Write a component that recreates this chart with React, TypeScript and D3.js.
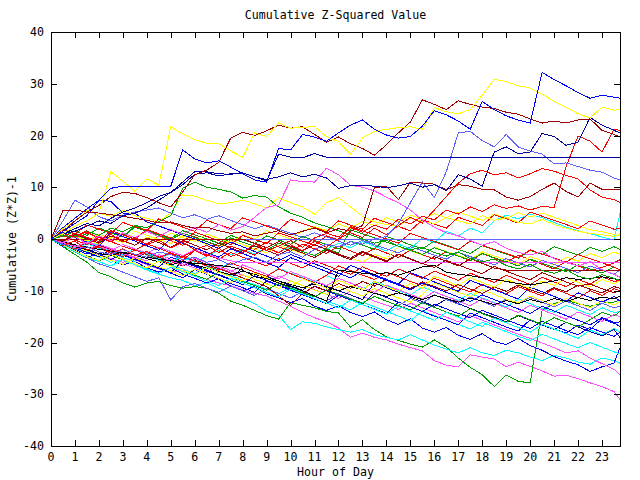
import React from "react";
import * as d3 from "d3";

const WIDTH = 640;
const HEIGHT = 480;
const PLOT = { left: 51, right: 620, top: 32, bottom: 446 };
const TICK = 6;
const FONT = "'DejaVu Sans Mono', 'Liberation Mono', monospace";

// half-hour samples, last one at 23:45
const HOURS = [
  0, 0.5, 1, 1.5, 2, 2.5, 3, 3.5, 4, 4.5, 5, 5.5, 6, 6.5, 7, 7.5,
  8, 8.5, 9, 9.5, 10, 10.5, 11, 11.5, 12, 12.5, 13, 13.5, 14, 14.5, 15, 15.5,
  16, 16.5, 17, 17.5, 18, 18.5, 19, 19.5, 20, 20.5, 21, 21.5, 22, 22.5, 23, 23.5, 23.75,
];
const X_TICKS = [0, 1, 2, 3, 4, 5, 6, 7, 8, 9, 10, 11, 12, 13, 14, 15, 16, 17, 18, 19, 20, 21, 22, 23];
const Y_TICKS = [-40, -30, -20, -10, 0, 10, 20, 30, 40];

const TITLE = "Cumulative Z-Squared Value";
const X_LABEL = "Hour of Day";
const Y_LABEL = "Cumulative (Z*Z)-1";

// upper lines
const blueTop = [
  0, 1.5, 3, 4.5, 7.5, 9.8, 10.2, 10.2,
  10.2, 10.2, 10.2, 17.2, 15.5, 14.7, 15.1, 13.9,
  12.6, 11.4, 11, 17.5, 17.2, 20.2, 19.7, 18.9,
  20.5, 22, 23, 21.2, 20.1, 19.5, 19.8, 21.8,
  24.8, 24, 22.8, 21.2, 26.6, 25, 23.8, 23,
  22.4, 32.2, 30.8, 29.6, 28.3, 27.2, 27.8, 27.4, 27.2,
];
const yellowTop = [
  0, 1, 2.5, 3.5, 5, 13, 11.2, 9.2,
  11.6, 10.4, 21.7, 20.3, 19.2, 18.5, 18.4, 17,
  15.8, 20.5, 19.8, 22.4, 21.4, 21.6, 21.7, 19.8,
  18.8, 16.4, 19.5, 20.8, 21.2, 21.5, 21.7, 21.2,
  25.4, 24.6, 24.2, 25, 27.8, 30.9, 30.4, 29.6,
  29.2, 28, 26.6, 25.4, 24.2, 23.4, 25.5, 24.9, 25,
];
const darkRedTop = [
  0, 1.5, 3.5, 5.2, 6.5, 8.2, 9, 8.8,
  8, 7, 6.2, 9.1, 12.4, 13.3, 14.8, 19.5,
  20.6, 20, 20.9, 22, 21.4, 21.7, 20.2, 18.7,
  19.7, 18.4, 17.5, 16.2, 18.2, 20.5, 22.6, 26.9,
  26, 25, 26.7, 26, 25.5, 25.2, 24.5, 24.1,
  23.2, 22.4, 22.8, 22.4, 23, 23.2, 21, 20.2, 19.7,
];
const navyFlat = [
  0, 1, 2, 3, 2.5, 4, 5.2, 6,
  7, 8.2, 9, 11, 13, 13, 12.6, 12.5,
  12.8, 12, 11.2, 16.4, 15.8, 15.7, 16.5, 15.8,
  15.8, 15.8, 15.8, 15.8, 15.8, 15.8, 15.8, 15.8,
  15.8, 15.8, 15.8, 15.8, 15.8, 15.8, 15.8, 15.8,
  15.8, 15.8, 15.8, 15.8, 15.8, 15.8, 15.8, 15.8, 15.8,
];
const navyRise = [
  0, 1, 1.5, 2.5, 3.5, 3, 4.5, 5,
  6, 7.5, 9, 10.5, 12.5, 12.8, 12.2, 12.6,
  12.8, 12, 11.5, 12, 12.8, 12, 12.5, 11.8,
  9.8, 10.3, 10.4, 10.2, 9.9, 10.3, 10.8, 10,
  10.5, 9.3, 12.4, 11.6, 10.2, 16.8, 17.8, 16.5,
  16.8, 20.4, 19.8, 18.1, 18.7, 23.5, 22, 21, 20.5,
];
const lightBlueRise = [
  0, -1, -2, -1.5, -2.5, -3, -2, -3,
  -3.5, -2.5, -3, -4, -3.5, -4.5, -4, -5,
  -4, -3.5, -4.5, -3, -2.5, -3.5, -2, -1,
  -1.5, -0.5, -1, 0, 0.5, 3, 7, 11,
  8, 13, 20.5, 20.8, 19, 17.8, 20.2, 17.8,
  17, 16.4, 14.5, 14.7, 14, 13.3, 12.9, 11.8, 11.4,
];
const redLate = [
  0, -1.2, -0.4, -2.1, -1.5, -2.8, -1.9, -3.2,
  -2.4, -3.6, -2.7, -4.1, -2.2, -3.3, -1.8, -3.4,
  -2.6, -0.9, -2.2, -1.4, -0.3, -1.6, 0.2, 1.1,
  0.4, 2.2, 1.3, 2.7, 1.9, 3.8, 2.9, 4.4,
  3.7, 5.6, 4.8, 6.2, 5.3, 6.6, 5.9, 6.4,
  5.6, 6.3, 6.1, 14, 19.9, 18.9, 16.8, 21.2, 21,
];
const redMid = [
  0, 1.1, 0.4, 1.6, -0.2, 0.9, -0.6, 0.3,
  -1.1, -0.2, -1.7, -0.6, -2.1, -1.2, -2.6, -1.4,
  -2.2, -3.1, -1.6, -2.7, -1.1, -2.3, -0.4, -1.6,
  0.1, 1.2, 0.3, 2.1, 0.8, 2.6, 4.2, 3.1,
  5.6, 8.2, 10.8, 12.6, 13.3, 12.4, 12.8, 11.8,
  12.6, 13.6, 13.1, 12.3, 11.6, 9.5, 8.1, 7.6, 7.1,
];
const darkRedMid = [
  0, 5.5, 5.6, 5.2, 5, 4.7, 4.4, 4,
  3.6, 3.1, 3.3, 2.6, 2.1, 2.3, 1.6, 1.1,
  1.4, 0.6, 1.1, 1.6, 0.8, 1.5, 2.1, 1.2,
  2, 1.5, 2.6, 9.9, 10.2, 7.6, 11, 10.8,
  10.6, 9.5, 10.5, 10.2, 9.6, 9.5, 8.1, 7.5,
  8.2, 9.6, 10.8, 9.2, 8.1, 10.8, 9.6, 9.5, 9.5,
];
const magentaHump = [
  0, -0.8, 0.5, -0.9, 0.6, -0.3, 1.2, 0.2,
  1.5, 0.4, 1.8, 0.9, 2.2, 1.3, 2.8, 1.7,
  2.4, 4.2, 6.1, 6.6, 11.4, 11.1, 11, 13.7,
  12.4, 10.4, 10, 9.3, 8.1, 7, 5.6, 3.7,
  2.3, 1.2, 0.6, -0.3, -1.2, -0.5, -1.8, -2.6,
  -3.1, -2.4, -3.8, -4.6, -5.2, -4.4, -5.9, -6.8, -7.4,
];
const greenHump = [
  0, 0.8, 0.3, 1.5, 0.7, 2.1, 1.4, 2.6,
  2.2, 3.4, 4.5, 9.8, 11, 10, 9.6, 9.1,
  7.9, 8.4, 8.1, 6.2, 5, 4.2, 3.1, 2.4,
  1.6, 0.8, 0, -0.8, -0.2, -1.4, -2.1, -1.6,
  -2.6, -3.3, -2.5, -3.8, -4.4, -3.9, -5.1, -5.8,
  -4.9, -6.1, -6.6, -5.9, -7.2, -7.8, -6.9, -7.6, -8,
];
const yellowMid = [
  0, 2, 3.5, 5.5, 5, 4.4, 5.6, 4.5,
  4, 3.4, 5, 8.5, 8.3, 7.5, 6.8, 7,
  7.5, 6.8, 6, 8, 7, 6.2, 4.8, 7,
  8, 6.2, 4.4, 3.3, 2.8, 2.5, 4, 3.4,
  3, 4.1, 3.5, 2.9, 4.5, 3.6, 4.1, 3.2,
  2.9, 3.8, 2.8, 2.1, 1.5, 1.1, 0.8, 0.5, 1,
];

// lower bundle
const magentaLow = [
  0, -0.8, -1.5, -2.5, -3, -3.8, -4.5, -4,
  -5, -5.8, -6.5, -6, -7, -7.8, -8.5, -9,
  -9.8, -10.5, -11, -12, -13, -14.2, -15.2, -16,
  -17.2, -19, -18.2, -19, -19.5, -20.3, -21, -21.6,
  -23.5, -24.4, -24.7, -22.4, -22.8, -23.2, -24.7, -23.8,
  -24.6, -25.5, -26.5, -26.3, -27, -27.8, -28.5, -29.5, -31,
];
const greenDip = [
  0, -1.5, -3, -4.5, -6.5, -7.3, -8.5, -9.3,
  -8.5, -8.2, -9, -9.5, -9.2, -9.5, -10.5, -12,
  -12.8, -13.8, -14.8, -15.5, -12.3, -12.8, -13.3, -14,
  -14.3, -17, -15.6, -17.5, -18.9, -19.6, -20.3, -20.9,
  -19.5, -20.9, -23, -24.8, -26.2, -28.5, -26.3, -27.5,
  -27.8, -13.7, -12.5, -11.8, -12.5, -13, -12.4, -12.2, -11.8,
];
const cyanLow = [
  0, -1, -2, -2.5, -3.5, -4.5, -4, -5,
  -6, -6.8, -7.5, -8, -9, -8.5, -9.5, -10.5,
  -11.5, -12.5, -14, -14.7, -17.5, -16, -16.3, -17,
  -17.5, -18, -17.5, -18.5, -19, -19.5, -18.5, -19.5,
  -20.5, -21.3, -22, -21, -22, -22.5, -21.5, -22,
  -22.8, -23.5, -22.5, -23, -23.8, -24.2, -23, -23.5, -24,
];
const blueLow = [
  0, -1.4, -2.2, -3.5, -2.8, -4.1, -5, -4.3,
  -5.6, -6.4, -5.5, -6.8, -7.6, -8.5, -7.7, -9.1,
  -10, -9.2, -10.6, -11.4, -12.3, -11.5, -13, -13.8,
  -12.9, -14.2, -15, -14.1, -15.6, -16.5, -15.4, -17.2,
  -18, -17.1, -18.6, -19.4, -18.3, -19.8, -20.4, -19.2,
  -20.6, -21.5, -22.7, -23.6, -24.3, -25.6, -24.7, -24, -21,
];
const magentaLow2 = [
  0, -0.6, -1.5, -2.3, -1, -1.8, -2.6, -3.5,
  -4.2, -3, -3.9, -4.8, -5.6, -6.5, -5.2, -6.1,
  -7, -7.8, -8.7, -7.2, -8.1, -9, -9.8, -10.7,
  -11.5, -10.1, -11, -12, -12.8, -13.6, -12.4, -13.3,
  -14.2, -15.1, -16, -14.8, -15.7, -16.6, -17.5, -18.4,
  -19.2, -20.1, -21, -22, -21.6, -23, -24.1, -25.2, -26.2,
];
const blueLow2 = [
  0, -0.8, -1.7, -2.6, -3.4, -2.1, -3, -3.9,
  -4.7, -5.6, -6.5, -4.2, -5.1, -6, -6.9, -7.7,
  -5.5, -6.4, -7.2, -8.1, -9, -9.9, -8.2, -9.1,
  -10, -10.8, -11.7, -8.5, -9.4, -10.3, -11.2, -12.1,
  -13, -11.6, -12.5, -13.4, -14.3, -15.1, -16, -14.8,
  -15.7, -16.6, -17.5, -16.1, -17, -17.9, -18.7, -17.5, -19,
];
const cyanLow2 = [
  0, -1, -1.8, -0.9, -1.8, -2.7, -3.6, -4.4,
  -3.2, -4.1, -5, -5.8, -6.7, -5.3, -6.2, -7.1,
  -8, -8.8, -9.7, -10.6, -9.3, -10.2, -11.1, -12,
  -12.8, -13.7, -12.2, -13.1, -14, -14.9, -15.8, -13.9,
  -14.8, -15.7, -16.5, -17.4, -16.1, -17, -17.9, -18.8,
  -19.6, -18.4, -19.3, -20.2, -21, -20, -20.9, -21.8, -22.2,
];
const navyLow = [
  0, -0.5, -1.4, -2.2, -3.1, -4, -2.8, -3.7,
  -4.5, -5.4, -3.5, -4.4, -5.3, -6.2, -7, -7.9,
  -8.8, -7.1, -8, -8.9, -9.7, -10.6, -9.1, -10,
  -10.9, -11.8, -12.6, -10.4, -11.3, -12.2, -13.1, -14,
  -12.6, -13.5, -14.4, -15.2, -13.8, -14.7, -15.6, -16.5,
  -17.3, -15.9, -16.8, -17.7, -18.5, -17.1, -18, -18.8, -18,
];
const blueLow3 = [
  0, -1.1, -2, -2.9, -1.3, -2.2, -3.1, -4,
  -4.8, -5.7, -6.6, -7.5, -5.9, -6.8, -7.7, -8.6,
  -9.4, -10.3, -8.1, -9, -9.9, -10.8, -11.6, -12.5,
  -10.9, -11.8, -12.7, -13.5, -14.4, -12.2, -13.1, -14,
  -14.9, -15.7, -16.6, -14.3, -15.2, -16.1, -17, -17.8,
  -15.6, -16.5, -17.4, -18.2, -16.6, -17.5, -15.4, -16.3, -16,
];
const lightBlueDip = [
  0, -1.2, -2.5, -3.6, -4.8, -5.5, -6.4, -7.3,
  -8.2, -7.5, -11.8, -9.2, -8.6, -9.5, -10.3, -9.1,
  -10, -10.9, -9.6, -10.5, -11.4, -10.2, -11.1, -12,
  -10.6, -11.5, -12.4, -11.1, -12, -12.9, -11.5, -12.4,
  -10.8, -11.7, -12.6, -11.2, -12.1, -13, -11.6, -12.5,
  -11.3, -12.2, -13.1, -12, -12.9, -13.8, -12.4, -13.3, -13,
];
const cyanMid = [
  0, -0.9, -1.7, -0.4, -1.3, -2.2, -3, -1.9,
  -2.8, -3.7, -4.5, -3.2, -4.1, -5, -5.8, -4.6,
  -5.5, -6.4, -7.2, -5.7, -6.6, -7.5, -8.3, -7.1,
  -8, -8.9, -9.7, -8.2, -9.1, -10, -10.8, -9.3,
  -10.2, -11.1, -11.9, -10.5, -11.4, -12.3, -13.1, -11.6,
  -12.5, -13.4, -14.2, -12.8, -13.7, -14.6, -13.3, -14.2, -14,
];
const yellowLow = [
  0, -0.6, -1.5, -2.3, -3.2, -4.1, -4.9, -3.6,
  -4.5, -5.4, -6.2, -7.1, -5.8, -6.7, -7.6, -8.4,
  -6.9, -7.8, -8.7, -9.5, -8.1, -9, -9.9, -10.7,
  -9.2, -10.1, -11, -9.6, -10.5, -11.4, -12.2, -10.8,
  -8.5, -9.4, -10.3, -11.1, -9.8, -10.7, -11.6, -12.4,
  -11, -11.9, -12.8, -11.5, -12.4, -13.3, -11.9, -12.8, -12,
];
const greenLow = [
  0, -1.3, -2.4, -3.3, -4.2, -3.1, -4, -4.9,
  -5.7, -4.3, -5.2, -6.1, -7, -7.8, -6.4, -7.3,
  -8.2, -9, -9.9, -8.6, -9.5, -10.4, -11.2, -9.8,
  -10.7, -11.6, -12.4, -11.1, -12, -12.9, -13.7, -12.3,
  -13.2, -14.1, -14.9, -13.5, -14.4, -15.3, -16.1, -14.7,
  -15.6, -16.5, -15.2, -16.1, -17, -15.6, -14.2, -14.9, -14,
];
const darkRedLow = [
  0, -0.5, -1.3, -2.1, -1.2, -2, -2.9, -3.7,
  -2.6, -3.5, -4.3, -5.2, -4, -4.9, -5.7, -6.6,
  -7.5, -8.3, -9.2, -11, -12.8, -10.5, -9.2, -10,
  -8.6, -9.5, -8.2, -9.1, -7.8, -8.7, -9.6, -8.3,
  -9.2, -10, -8.8, -9.7, -10.5, -9.3, -10.1, -8.9,
  -9.8, -10.6, -9.4, -10.2, -8.9, -9.7, -10.4, -9.2, -9.5,
];
const blackMid = [
  0, -0.6, -1.1, -1.6, -2, -2.3, -2.7, -3,
  -3.5, -3.9, -4.2, -4.4, -4.7, -4.9, -5.1, -5.4,
  -6, -7.3, -7.6, -8.5, -9.2, -10, -11, -12,
  -6, -6.3, -6.6, -6.8, -6.5, -7, -6.2, -5.4,
  -5.1, -6.4, -6.8, -7.1, -7.5, -7.8, -8.2, -8.6,
  -8.9, -8.5, -8.1, -7.5, -7.8, -7.6, -7.3, -7.7, -7.9,
];
const redBundle = [
  0, 0.8, -0.3, 1.2, 0.3, -0.6, 0.9, -0.1,
  -1, 0.6, -0.3, -1.2, 0.4, -0.5, -1.4, -0.2,
  -1.1, -2, -0.6, -1.5, -2.4, -1, -1.9, -2.8,
  -1.4, -2.3, -3.2, -1.8, -2.7, -3.6, -2.1, -3,
  -3.9, -2.4, -3.3, -4.2, -2.8, -3.7, -4.6, -3.1,
  -4, -4.9, -5.8, -4.3, -5.2, -6.1, -5.5, -4.6, -4,
];
const darkRedFlatLow = [
  0, -0.4, 0.9, 0.1, -0.8, 0.6, -0.3, -1.2,
  0.2, -0.7, -1.6, -0.3, -1.2, -2.1, -0.8, -1.7,
  -2.6, -1.3, -2.2, -3.1, -1.8, -2.7, -3.6, -2.2,
  -3.1, -4, -2.6, -3.5, -4.4, -3, -3.9, -4.8,
  -3.4, -4.3, -5.2, -3.8, -4.7, -5.6, -6, -6,
  -6, -6, -6, -6, -6, -6, -6, -6, -6,
];
const magentaFlat = [
  0, -0.7, -1.5, -0.6, -1.4, -2.2, -1.1, -1.9,
  -2.7, -1.6, -2.4, -3.2, -2.1, -2.9, -3.7, -4.2,
  -4.6, -4.6, -4.6, -4.6, -4.6, -4.6, -4.6, -4.6,
  -4.6, -4.6, -4.6, -4.6, -4.6, -4.6, -4.6, -4.6,
  -4.6, -4.6, -4.6, -4.6, -4.6, -4.6, -4.6, -4.6,
  -4.6, -4.6, -4.6, -4.6, -4.6, -4.6, -4.6, -4.6, -4.6,
];
const yellowBundle = [
  0, 1.2, 0.4, -0.4, 0.9, 0.1, -0.7, 1.5,
  0.7, -0.1, -0.9, 0.6, -0.2, -1, -1.8, -0.3,
  -1.1, -1.9, -2.7, -1.2, -2, -2.8, -3.6, -2.1,
  -2.9, -3.7, -4.5, -3, -3.8, -1.5, -2.3, -3.1,
  -1.6, -2.4, -3.2, -4, -2.5, -3.3, -4.1, -4.9,
  -3.4, -4.2, -5, -3.5, -4.3, -2.8, -3.6, -2.5, -3,
];
const greenBundle = [
  0, 0.5, 1.5, 0.7, 2.1, 1.3, 0.5, 2.5,
  1.7, 0.9, 0.1, 1.6, 0.8, 0, -0.8, 0.7,
  -0.1, -0.9, 0.6, -0.2, -1, 0.5, -0.3, -1.1,
  -1.9, -0.4, -1.2, -2, 0.5, -0.3, -1.1, -1.9,
  -0.4, -1.2, -2, -2.8, -1.3, -2.1, -2.9, -3.7,
  -2.2, -3, -1.5, -2.3, -3.1, -1.6, -2.4, -1.5, -2,
];
const lightBlueFlat = [
  0, 0, 0, 0, 0, 0, 0, 0,
  0, 0, 0, 0, 0, 0, 0, 0,
  0, 0, 0, 0, 0, 0, 0, 0,
  0, 0, 0, 0, 0, 0, 0, 0,
  0, 0, 0, 0, 0, 0, 0, 0,
  0, 0, 0, 0, 0, 0, 0, 0, 0,
];
const darkRedFlatZero = [
  0, 0, 0, 0, 0, 0, 0, 0,
  0, 0, 0, 0, 0, 0, 0, 0,
  0, -0.8, -1.7, -0.5, -1.4, -2.3, -1.1, -2,
  -2.9, -3.7, -2.4, -3.3, -4.2, -2.9, -3.8, -4.7,
  -5.5, -4.1, -5, -5.9, -6.7, -5.3, -6.2, -7.1,
  -7.9, -6.5, -7.4, -8.3, -9.1, -8.7, -9.6, -10.4, -10,
];
const cyanEnd = [
  0, -0.9, -1.8, -0.6, -1.5, -2.4, -3.3, -2.1,
  -3, -3.9, -2.7, -3.6, -4.5, -3.3, -2.2, -3.1,
  -2, -2.9, -1.7, -2.6, -1.4, -2.3, -1.1, -2,
  -0.8, -1.7, -0.5, -1.4, -2.3, -1, -1.9, 0.2,
  -0.7, 1.5, 0.6, 2.1, 1.2, 3.5, 4.6, 3.9,
  4.8, 4.1, 3.2, 2.3, 1.6, 1, 0.4, -0.2, 5,
];
const yellowHigh = [
  0, -0.8, 0.6, -0.2, -1, 0.4, -0.4, -1.2,
  0.3, -0.5, 1.1, 0.3, -0.5, 0.9, 0.1, -0.7,
  0.8, 0, 1.6, 0.8, 0, 1.5, 2.4, 1.6,
  2.9, 2.1, 3.4, 2.6, 4.1, 3.3, 4.6, 3.8,
  4.9, 4.1, 5.2, 4.4, 3.6, 4.8, 4, 5.1,
  4.3, 5, 4.2, 3.4, 2.6, 1.8, 1.4, 0.9, 0.5,
];
const redLow = [
  0, 0.7, -0.2, -1.1, 0.4, -0.5, -1.4, -2.2,
  -0.9, -1.8, -2.7, -3.5, -2.1, -3, -3.9, -2.6,
  -3.5, -4.4, -5.2, -3.8, -4.7, -5.6, -4.2, -5.1,
  -6, -6.8, -5.4, -6.3, -7.2, -5.8, -6.7, -7.6,
  -6.2, -7.1, -8, -6.6, -7.5, -8.4, -7, -7.9,
  -8.8, -7.4, -8.3, -9.2, -7.8, -8.7, -7.3, -8.2, -8,
];
const lightBlueEarly = [
  0, 3.5, 7.5, 6.2, 4.3, 3.5, 4.6, 5.2,
  5.6, 6, 5, 4.1, 4.7, 3.8, 4.5, 3.6,
  2.8, 2, 2.7, 1.9, 1.1, 0.3, 1.2, 0.4,
  -0.4, -1.2, -0.3, -1.1, -1.9, -2.7, -1.5, -2.3,
  -3.1, -3.9, -2.6, -3.4, -4.2, -5, -3.8, -4.6,
  -5.4, -4.1, -4.9, -5.7, -6.5, -5.2, -6, -6.8, -6,
];
const greenMid = [
  0, -0.5, 0.8, 0, -0.8, 1.2, 0.4, 2.3,
  1.5, 0.7, -0.1, 1.1, 0.3, -0.5, -1.3, 0.2,
  -0.6, -1.4, -2.2, -0.8, -1.6, -2.4, -3.2, -1.9,
  -2.7, 1.8, 1, 0.2, -0.6, -1.4, -2.2, -3,
  -1.7, -2.5, -3.3, -4.1, -2.8, -3.6, -4.4, -5.2,
  -3.9, -4.7, -5.5, -6.3, -5, -5.8, -6.6, -5.4, -6,
];
const redLow2 = [
  0, -1, -1.9, -0.7, -1.6, -2.5, -3.4, -2.1,
  -3, -3.9, -4.8, -3.4, -4.3, -5.2, -6, -4.6,
  -5.5, -6.4, -7.2, -5.8, -6.7, -7.6, -8.4, -7,
  -5.2, -6.1, -7, -7.8, -6.4, -7.3, -8.2, -9,
  -7.6, -8.5, -9.4, -10.2, -8.8, -9.7, -10.6, -9.2,
  -10.1, -11, -9.6, -10.5, -11.4, -10, -10.9, -9.6, -10,
];
const magentaMid = [
  0, -0.3, -1.2, -2.1, -1, -1.9, -2.8, -3.7,
  -2.4, -3.3, -4.2, -5.1, -3.7, -4.6, -5.5, -6.4,
  -5, -5.9, -6.8, -7.7, -6.3, -7.2, -8.1, -9,
  -7.6, -8.5, -9.4, -10.3, -8.9, -9.8, -10.7, -11.6,
  -10.2, -11.1, -12, -12.9, -11.5, -12.4, -13.3, -14.2,
  -12.8, -13.7, -14.6, -15.5, -14.1, -15, -15.9, -14.6, -15,
];
const blueMid = [
  0, 1.2, 0.3, -0.6, -1.5, 1.4, 0.5, -0.4,
  -1.3, -2.2, 0.1, -0.8, -1.7, -2.6, -3.5, -1.9,
  -2.8, -3.7, -4.6, -5.5, -3.6, -4.5, -5.4, -6.3,
  -7.2, -5.1, -6, -6.9, -7.8, -8.7, -6.5, -7.4,
  -8.3, -9.2, -10.1, -8, -8.9, -9.8, -10.7, -11.6,
  -9.3, -10.2, -11.1, -12, -10.4, -11.3, -12.2, -11.1, -12,
];
const blackLow = [
  0, -0.8, -1.5, -2.1, -2.8, -3.2, -2.5, -3.1,
  -3.8, -4.4, -5, -4.3, -5, -5.6, -6.3, -6.9,
  -6.2, -6.8, -7.5, -8.1, -8.8, -9.4, -8.7, -9.3,
  -10, -9.2, -9.8, -10.5, -11.1, -10.4, -11, -11.7,
  -10.9, -11.5, -12.2, -11.4, -12, -12.7, -11.9, -12.5,
  -11.7, -12.3, -11.5, -12.1, -11.3, -11.9, -11.2, -11.6, -11,
];
const cyanLow3 = [
  0, -1.3, -2.4, -3.5, -4.4, -5.2, -4, -4.9,
  -5.8, -6.7, -5.4, -6.3, -7.2, -8.1, -9, -7.6,
  -8.5, -9.4, -10.3, -11.2, -9.7, -10.6, -11.5, -12.4,
  -13.3, -11.8, -12.7, -13.6, -14.5, -13, -13.9, -14.8,
  -15.7, -14.2, -15.1, -16, -16.9, -15.3, -16.2, -17.1,
  -18, -16.5, -17.4, -18.3, -19.2, -17.6, -18.5, -17.3, -18,
];
const redHigh = [
  0, 1.8, 1, 2.7, 1.9, 1.1, 3.2, 2.4,
  1.6, 3.9, 3.1, 2.3, 1.5, 3.6, 2.8, 2,
  4.1, 3.3, 2.5, 1.7, 3.8, 3, 2.2, 1.4,
  3.5, 2.7, 1.9, 4, 3.2, 2.4, 1.6, 3.7,
  2.9, 2.1, 4.2, 3.4, 2.6, 4.7, 3.9, 3.1,
  5.2, 4.4, 3.6, 2.8, 2, 3.5, 2.7, 1.9, 2,
];
const yellowLow2 = [
  0, -1.2, -2.3, -3.4, -4.2, -3, -3.9, -4.8,
  -5.6, -4.3, -5.2, -6.1, -6.9, -5.5, -6.4, -7.3,
  -8.1, -6.6, -7.5, -8.4, -9.2, -7.7, -8.6, -9.5,
  -8, -8.9, -9.8, -8.3, -9.2, -10.1, -8.6, -9.5,
  -7.2, -8.1, -9, -7.5, -8.4, -9.3, -7.8, -8.7,
  -9.6, -8.1, -9, -7.5, -8.4, -9.3, -7.8, -8.7, -8,
];
const redZero = [
  0, -0.4, 1.1, 0.3, -0.5, 1.6, 0.8, 0,
  1.8, 1, 0.2, -0.6, 1.3, 0.5, -0.3, -1.1,
  0.7, -0.1, -0.9, 1.2, 0.4, -0.4, -1.2, 0.6,
  -0.2, 2.4, 1.6, 0.8, 0, -0.8, 1.1, 0.3,
  -0.5, -1.3, -2.1, -0.4, -1.2, -2, -2.8, -3.6,
  -2.1, -2.9, -3.7, -4.5, -3, -3.8, -4.6, -5.4, -6,
];
const blueEarly = [
  0, 2.2, 4, 5.8, 7.5, 7.3, 5, 5,
  3.3, 2.5, 1.7, 0.8, 0, -0.9, -1.8, -0.6,
  -1.5, -2.4, -3.3, -4.2, -3, -3.9, -4.8, -5.7,
  -6.6, -7.5, -6.2, -7.1, -8, -8.9, -9.8, -8.5,
  -9.4, -10.3, -11.2, -12.1, -10.8, -11.7, -12.6, -13.5,
  -14.4, -13, -13.9, -14.8, -15.7, -16.6, -15.2, -16.1, -17,
];

const RED = "#ff0000";
const GREEN = "#00a000";
const BLUE = "#0000ff";
const MAGENTA = "#ff50ff";
const CYAN = "#00ffff";
const YELLOW = "#ffff00";
const BLACK = "#000000";
const DARKRED = "#a00000";
const NAVY = "#0000a0";
const LIGHTBLUE = "#6060ff";

// drawing order: first entries end up underneath
const SERIES: [number[], string][] = [
  [magentaLow, MAGENTA],
  [greenDip, GREEN],
  [cyanLow, CYAN],
  [blueLow, BLUE],
  [magentaLow2, MAGENTA],
  [blueLow2, NAVY],
  [cyanLow2, CYAN],
  [navyLow, BLUE],
  [blueLow3, BLUE],
  [lightBlueDip, LIGHTBLUE],
  [cyanMid, CYAN],
  [yellowLow, YELLOW],
  [greenLow, GREEN],
  [darkRedLow, DARKRED],
  [redBundle, RED],
  [yellowBundle, YELLOW],
  [greenBundle, GREEN],
  [cyanEnd, CYAN],
  [yellowHigh, YELLOW],
  [redLow, RED],
  [lightBlueEarly, LIGHTBLUE],
  [greenMid, GREEN],
  [redLow2, RED],
  [magentaMid, MAGENTA],
  [blueMid, BLUE],
  [blackLow, BLACK],
  [cyanLow3, CYAN],
  [redHigh, RED],
  [yellowLow2, YELLOW],
  [redZero, RED],
  [blueEarly, BLUE],
  [blackMid, BLACK],
  [lightBlueFlat, LIGHTBLUE],
  [darkRedFlatZero, DARKRED],
  [magentaFlat, MAGENTA],
  [darkRedFlatLow, DARKRED],
  [yellowMid, YELLOW],
  [greenHump, GREEN],
  [magentaHump, MAGENTA],
  [darkRedMid, DARKRED],
  [redMid, RED],
  [redLate, RED],
  [lightBlueRise, LIGHTBLUE],
  [navyRise, NAVY],
  [navyFlat, NAVY],
  [darkRedTop, DARKRED],
  [yellowTop, YELLOW],
  [blueTop, BLUE],
];

export default function App() {
  const x = d3.scaleLinear().domain([0, 23.75]).range([PLOT.left, PLOT.right]);
  const y = d3.scaleLinear().domain([-40, 40]).range([PLOT.bottom, PLOT.top]);

  const line = d3
    .line<number>()
    .defined((_, i) => i < HOURS.length)
    .x((_, i) => x(HOURS[i]))
    .y((d) => y(d));

  const midX = (PLOT.left + PLOT.right) / 2;
  const midY = (PLOT.top + PLOT.bottom) / 2;

  return (
    <svg
      width={WIDTH}
      height={HEIGHT}
      style={{ position: "absolute", left: 0, top: 0, background: "#fff" }}
      fontFamily={FONT}
      fontSize={11.6}
    >
      <rect width={WIDTH} height={HEIGHT} fill="#fff" />
      <defs>
        <clipPath id="plot-clip">
          <rect x={PLOT.left} y={PLOT.top} width={PLOT.right - PLOT.left + 1} height={PLOT.bottom - PLOT.top + 1} />
        </clipPath>
      </defs>

      <g clipPath="url(#plot-clip)" fill="none" strokeWidth={1} shapeRendering="crispEdges">
        {SERIES.map(([values, color], i) => (
          <path key={i} d={line(values) ?? ""} stroke={color} />
        ))}
      </g>

      <g stroke="#000" strokeWidth={1} shapeRendering="crispEdges">
        <rect
          x={PLOT.left + 0.5}
          y={PLOT.top + 0.5}
          width={PLOT.right - PLOT.left}
          height={PLOT.bottom - PLOT.top}
          fill="none"
        />
        {X_TICKS.map((t) => {
          const px = Math.round(x(t)) + 0.5;
          return (
            <g key={`xt${t}`}>
              <line x1={px} x2={px} y1={PLOT.bottom} y2={PLOT.bottom - TICK} />
              <line x1={px} x2={px} y1={PLOT.top} y2={PLOT.top + TICK} />
            </g>
          );
        })}
        {Y_TICKS.map((t) => {
          const py = Math.round(y(t)) + 0.5;
          return (
            <g key={`yt${t}`}>
              <line x1={PLOT.left} x2={PLOT.left + TICK} y1={py} y2={py} />
              <line x1={PLOT.right} x2={PLOT.right - TICK} y1={py} y2={py} />
            </g>
          );
        })}
      </g>

      <g fill="#000">
        {X_TICKS.map((t) => (
          <text key={`xl${t}`} x={x(t)} y={461} textAnchor="middle">
            {t}
          </text>
        ))}
        {Y_TICKS.map((t) => (
          <text key={`yl${t}`} x={44} y={y(t) + 4} textAnchor="end">
            {t}
          </text>
        ))}
        <text x={midX} y={19} textAnchor="middle">
          {TITLE}
        </text>
        <text x={midX} y={476} textAnchor="middle">
          {X_LABEL}
        </text>
        <text transform={`translate(16,${midY}) rotate(-90)`} textAnchor="middle">
          {Y_LABEL}
        </text>
      </g>
    </svg>
  );
}
